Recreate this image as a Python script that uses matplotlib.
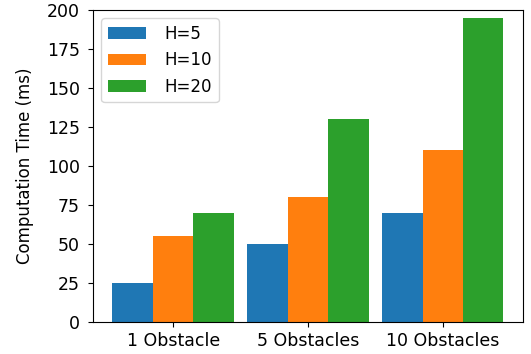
import numpy as np
import matplotlib.pyplot as plt

groups = ['1 Obstacle', '5 Obstacles', '10 Obstacles']
labels = ['H=5', 'H=10', 'H=20']
h5 = [25, 50, 70]
h10 = [55, 80, 110]
h20 = [70, 130, 195]

fig, ax = plt.subplots(figsize=(5.31, 3.54), dpi=100)
x = np.arange(len(groups))
w = 0.3
for i, (vals, lab) in enumerate(zip([h5, h10, h20], labels)):
    ax.bar(x + (i - 1) * w, vals, w, label=lab)

ax.set_xticks(x)
ax.set_xticklabels(groups)
ax.tick_params(labelsize=12.5)
ax.tick_params(axis='y', pad=6)
ax.set_ylabel('Computation Time (ms)', fontsize=12, labelpad=9)
ax.set_ylim(0, 200)
ax.legend(loc='upper left', fontsize=12, handlelength=2.3, handletextpad=1.1)
fig.subplots_adjust(left=0.175, right=0.985, top=0.972, bottom=0.09)
fig.savefig('out.png', dpi=100)
